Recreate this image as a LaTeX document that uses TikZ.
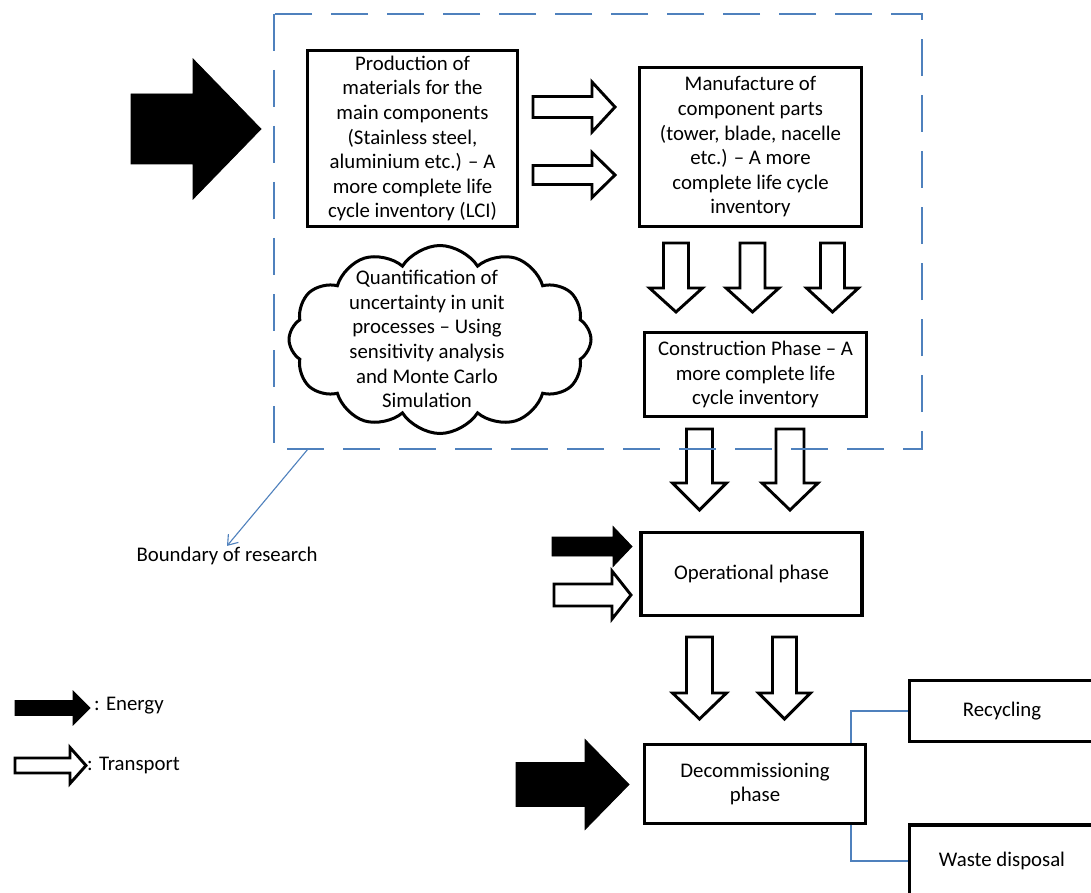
\documentclass[tikz,border=0pt]{standalone}
\usepackage{fontspec}
\setmainfont{Carlito}
\usetikzlibrary{shapes.symbols,arrows.meta}
\definecolor{bndblue}{RGB}{79,129,189}
% horizontal block arrow: style, x0, x1(head base), x2(tip), yc, shaft half, head half
\newcommand\myharrow[7]{%
  \draw[#1] (#2,#5-#6) -- (#3,#5-#6) -- (#3,#5-#7) -- (#4,#5) -- (#3,#5+#7) -- (#3,#5+#6) -- (#2,#5+#6) -- cycle;}
% vertical (down) block arrow: style, xc, y0(top), y1(head base), y2(tip), shaft half, head half
\newcommand\myvarrow[7]{%
  \draw[#1] (#2-#6,#3) -- (#2+#6,#3) -- (#2+#6,#4) -- (#2+#7,#4) -- (#2,#5) -- (#2-#7,#4) -- (#2-#6,#4) -- cycle;}
\begin{document}
\begin{tikzpicture}[x=1pt,y=-1pt,
  txt/.style={font=\fontsize{20.8}{24.6}\selectfont, align=center, text=black},
  stagebox/.style={txt, draw=black, line width=3.3pt, fill=white, inner sep=0pt},
  energyarrow/.style={draw=black, fill=black, line width=0.8pt, line join=miter},
  transarrow/.style={draw=black, fill=white, line width=2.9pt, line join=miter},
  bluelink/.style={draw=bndblue, line width=1.2pt},
  boundary/.style={draw=bndblue, line width=1.5pt, dash pattern=on 37pt off 19pt}]
\useasboundingbox (0,0) rectangle (1091,893);
\fill[white] (0,0) rectangle (1091,893);

% stage boxes
\node[stagebox, minimum width=210pt, minimum height=176pt] (prod) at (412.5,138.5)
  {Production of\\materials for the\\main components\\(Stainless steel,\\aluminium etc.) -- A\\more complete life\\cycle inventory (LCI)};
\node[stagebox, minimum width=222pt, minimum height=159pt] (manu) at (750.5,147)
  {Manufacture of\\component parts\\(tower, blade, nacelle\\etc.) -- A more\\complete life cycle\\inventory};
\node[stagebox, minimum width=222pt, minimum height=84pt] (cons) at (755.5,374.5)
  {Construction Phase -- A\\more complete life\\cycle inventory};
\node[stagebox, minimum width=221pt, minimum height=83pt] (oper) at (751.5,574)
  {Operational phase};
\node[stagebox, minimum width=221pt, minimum height=79pt] (decom) at (755,784)
  {Decommissioning\\phase};
\node[stagebox, minimum width=185pt, minimum height=61pt] (recyc) at (1002,711)
  {Recycling};
\node[stagebox, minimum width=185pt, minimum height=72pt] (waste) at (1002,861)
  {Waste disposal};

% cloud
\node[draw=black, line width=3pt, cloud, cloud puffs=12, cloud puff arc=115,
  minimum width=302pt, minimum height=188pt, inner sep=0pt] (cloud) at (440,339.5) {};
\node[txt] (cloudtxt) at (427,339)
  {Quantification of\\uncertainty in unit\\processes -- Using\\sensitivity analysis\\and Monte Carlo\\Simulation};

% energy arrows
\myharrow{energyarrow}{131}{193}{261}{129}{35}{70}
\myharrow{energyarrow}{552}{613}{632}{546.5}{9.5}{20}
\myharrow{energyarrow}{516}{585}{629}{784.5}{22}{45}
\myharrow{energyarrow}{15}{73}{90}{708}{7.5}{17}

% transport arrows
\myharrow{transarrow}{533}{592}{615}{107}{10.5}{25}
\myharrow{transarrow}{533}{592}{615}{175}{9.5}{22.5}
\myharrow{transarrow}{554}{612}{631}{595}{11}{24}
\myharrow{transarrow}{15}{70}{86}{765.5}{7.5}{18}

\myvarrow{transarrow}{676}{243}{288}{312}{12.5}{26.5}
\myvarrow{transarrow}{752.5}{243}{288}{312}{12.5}{26.5}
\myvarrow{transarrow}{832.5}{243}{288}{312}{12}{26}
\myvarrow{transarrow}{699.5}{429}{483}{510}{13}{27}
\myvarrow{transarrow}{790}{429}{483}{510}{14}{28}
\myvarrow{transarrow}{699.5}{637}{693}{719}{13}{27}
\myvarrow{transarrow}{784.5}{637}{693}{719}{12}{26}

% boundary of research
\draw[boundary] (274,14) rectangle (922,449);
\coordinate (bd) at (308,449);
\node[txt, inner sep=1pt] (bnd) at (227,556) {Boundary of research};
\draw[draw=bndblue, line width=1.1pt, -{Straight Barb[length=9pt,width=13pt]}] (bd) -- (bnd.north);

% decommissioning links
\coordinate (junc) at (851,0);
\draw[bluelink] (decom.north -| junc) |- (recyc.west);
\draw[bluelink] (decom.south -| junc) |- (waste.west);

% legend
\node[txt, anchor=west, inner sep=0pt] (legE) at (94,706) {: Energy};
\node[txt, anchor=west, inner sep=0pt] (legT) at (87,765) {: Transport};
\end{tikzpicture}
\end{document}
